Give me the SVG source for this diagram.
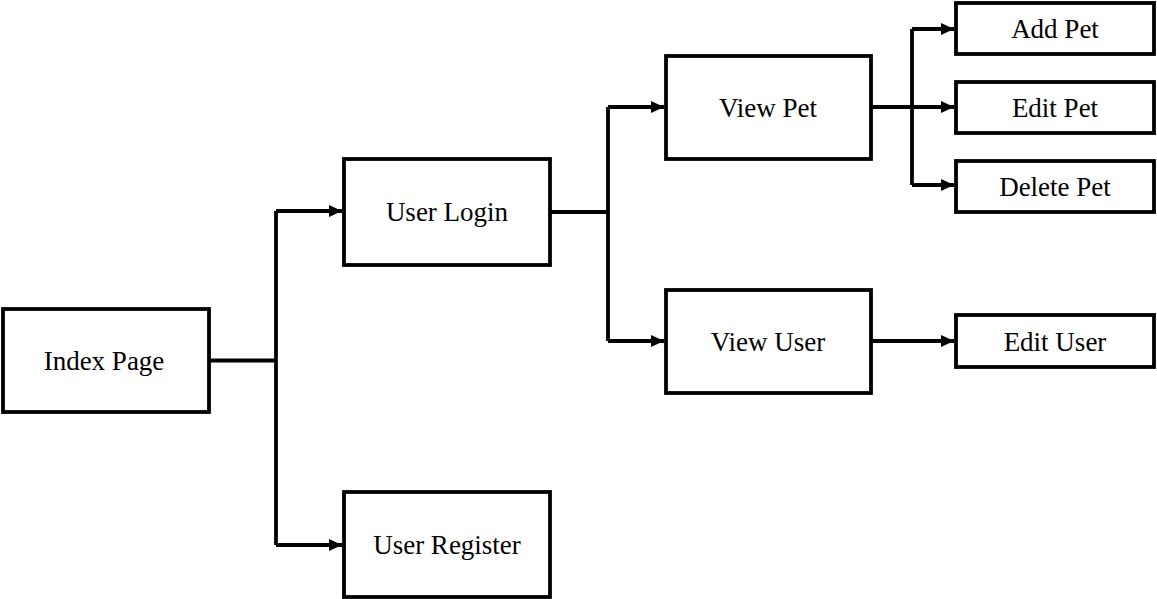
<svg xmlns="http://www.w3.org/2000/svg" width="1157" height="599" viewBox="0 0 1157 599">
<style>
.box{fill:#fff;stroke:#000;stroke-width:3.8}
.lbl{font-family:"Liberation Serif","Times New Roman",serif;font-size:27px;fill:#000;text-anchor:middle}
.ln{fill:none;stroke:#000;stroke-width:3.8}
</style>
<defs>
<marker id="ah" viewBox="0 0 13 12" refX="13" refY="6" markerWidth="13" markerHeight="12" markerUnits="userSpaceOnUse" orient="auto">
<path d="M0,0 L13,6 L0,12 Z" fill="#000"/>
</marker>
</defs>
<rect width="1157" height="599" fill="#fff"/>
<g id="connectors">
<path class="ln" d="M209,360.5 H276"/>
<path class="ln" d="M276,211 V545"/>
<path class="ln" d="M276,211 H342" marker-end="url(#ah)"/>
<path class="ln" d="M276,545 H342" marker-end="url(#ah)"/>
<path class="ln" d="M550,212 H608"/>
<path class="ln" d="M608,107 V341"/>
<path class="ln" d="M608,107 H664" marker-end="url(#ah)"/>
<path class="ln" d="M608,341 H664" marker-end="url(#ah)"/>
<path class="ln" d="M871,107 H912"/>
<path class="ln" d="M912,29 V185"/>
<path class="ln" d="M912,29 H954" marker-end="url(#ah)"/>
<path class="ln" d="M912,107 H954" marker-end="url(#ah)"/>
<path class="ln" d="M912,185 H954" marker-end="url(#ah)"/>
<path class="ln" d="M871,341 H954" marker-end="url(#ah)"/>
</g>
<g id="index-page"><rect class="box" x="3" y="309" width="206" height="103"/><text class="lbl" x="104" y="370">Index Page</text></g>
<g id="user-login"><rect class="box" x="344" y="159" width="206" height="106"/><text class="lbl" x="447" y="221">User Login</text></g>
<g id="user-register"><rect class="box" x="344" y="492" width="206" height="105"/><text class="lbl" x="447" y="554">User Register</text></g>
<g id="view-pet"><rect class="box" x="666" y="56" width="205" height="103"/><text class="lbl" x="768" y="117">View Pet</text></g>
<g id="view-user"><rect class="box" x="666" y="290" width="205" height="103"/><text class="lbl" x="768" y="351">View User</text></g>
<g id="add-pet"><rect class="box" x="956" y="3" width="198" height="51"/><text class="lbl" x="1055" y="38">Add Pet</text></g>
<g id="edit-pet"><rect class="box" x="956" y="82" width="198" height="51"/><text class="lbl" x="1055" y="117">Edit Pet</text></g>
<g id="delete-pet"><rect class="box" x="956" y="161" width="198" height="51"/><text class="lbl" x="1055" y="196">Delete Pet</text></g>
<g id="edit-user"><rect class="box" x="956" y="315" width="198" height="52"/><text class="lbl" x="1055" y="351">Edit User</text></g>
</svg>
